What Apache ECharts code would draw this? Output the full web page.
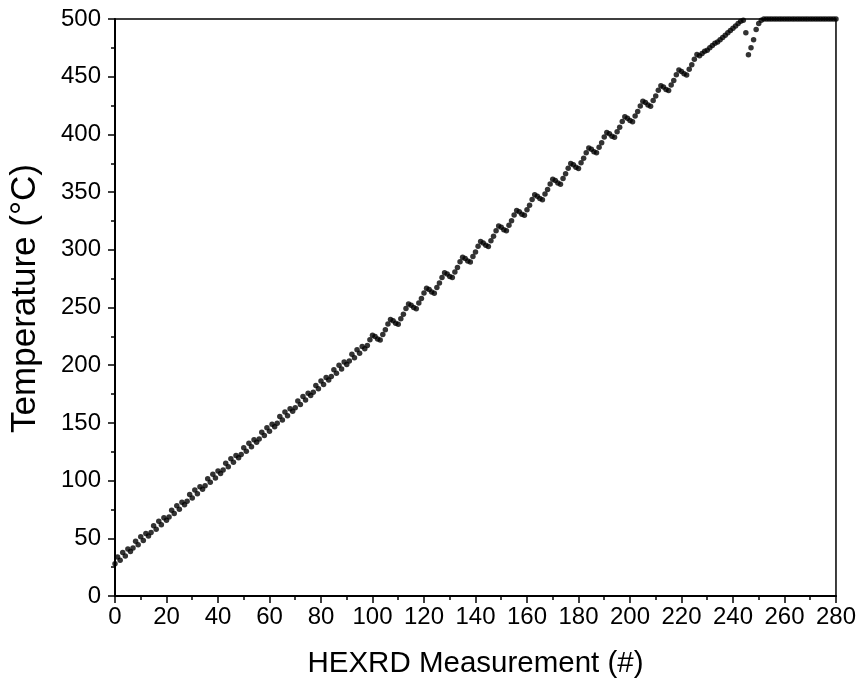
<!DOCTYPE html>
<html>
<head>
<meta charset="utf-8">
<script src="https://cdn.jsdelivr.net/npm/echarts@6/dist/echarts.min.js"></script>
<style>
html, body {margin: 0; padding: 0; background: #fff;}
#main {width: 859px; height: 688px;}
</style>
</head>
<body>
<div id="main"></div>
<script>
// 温度读数, 每个测量编号一个点 (从 0 开始)
var temperature = [
    28.0, 33.9, 30.9, 37.8, 34.7, 40.7, 38.6,
    41.5, 47.4, 44.4, 51.3, 48.2, 54.2, 52.1,
    55.0, 60.9, 57.9, 64.8, 61.7, 67.7, 65.6,
    68.5, 74.4, 71.4, 78.3, 75.2, 81.2, 79.1,
    82.0, 87.9, 84.9, 91.8, 88.7, 94.7, 92.6,
    95.6, 101.5, 98.5, 105.4, 102.3, 108.3, 106.2,
    109.1, 115.0, 112.0, 118.9, 115.8, 121.8, 119.7,
    122.6, 128.5, 125.5, 132.4, 129.3, 135.3, 133.2,
    136.1, 142.0, 139.0, 145.9, 142.8, 148.8, 146.7,
    149.6, 155.5, 152.5, 159.4, 156.3, 162.3, 160.2,
    163.1, 169.0, 166.0, 172.9, 169.8, 175.8, 173.7,
    176.6, 182.5, 179.5, 186.4, 183.3, 189.3, 187.2,
    190.1, 196.0, 193.0, 199.9, 196.8, 202.8, 200.7,
    203.6, 209.5, 206.5, 213.4, 210.3, 216.3, 214.2,
    217.1, 222.0, 226.0, 224.9, 222.8, 221.8, 226.7,
    230.7, 235.6, 239.6, 238.5, 236.4, 235.4, 240.3,
    244.2, 249.1, 253.1, 252.0, 249.9, 248.9, 253.8,
    257.7, 262.6, 266.6, 265.5, 263.4, 262.4, 267.3,
    271.2, 276.1, 280.1, 279.0, 276.9, 275.9, 280.8,
    284.7, 289.6, 293.6, 292.5, 290.4, 289.4, 294.3,
    298.2, 303.1, 307.1, 306.0, 303.9, 302.9, 307.8,
    311.7, 316.6, 320.6, 319.5, 317.4, 316.4, 321.3,
    325.2, 330.1, 334.1, 333.0, 330.9, 329.9, 334.8,
    338.7, 343.6, 347.6, 346.5, 344.4, 343.4, 348.3,
    352.2, 357.1, 361.1, 360.0, 357.9, 356.9, 361.8,
    365.8, 370.7, 374.7, 373.6, 371.5, 370.5, 375.4,
    379.3, 384.2, 388.2, 387.1, 385.0, 384.0, 388.9,
    392.8, 397.7, 401.7, 400.6, 398.5, 397.5, 402.4,
    406.3, 411.2, 415.2, 414.1, 412.0, 411.0, 415.9,
    419.8, 424.7, 428.7, 427.6, 425.5, 424.5, 429.4,
    433.3, 438.2, 442.2, 441.1, 439.0, 438.0, 442.9,
    446.8, 451.7, 455.7, 454.6, 452.5, 451.5, 456.4,
    460.3, 465.2, 469.2, 468.1,
    470, 472, 473, 475, 477, 479, 480, 482, 484, 486, 488, 490, 492, 494, 496, 498, 499,
    488, 469, 475, 482, 491, 496, 499,
    500, 500, 500, 500, 500, 500, 500, 500, 500, 500,
    500, 500, 500, 500, 500, 500, 500, 500, 500, 500,
    500, 500, 500, 500, 500, 500, 500, 500, 500
];
var xTicks = [0, 280, 20];   // min, max, 间隔
var yTicks = [0, 500, 50];

var points = [];
for (var i = 0; i < temperature.length; i++) {
    points.push([i, temperature[i]]);   // 测量编号 = 序号
}

var myChart = echarts.init(document.getElementById('main'));
var fontName = '"Liberation Sans", Arial, sans-serif';
myChart.setOption({
    animation: false,
    backgroundColor: '#fff',
    grid: {
        left: 113, right: 23, top: 19, bottom: 92,
        show: true, borderColor: '#000', borderWidth: 1.5
    },
    xAxis: {
        type: 'value',
        min: xTicks[0], max: xTicks[1], interval: xTicks[2],
        name: 'HEXRD Measurement (#)',
        nameLocation: 'middle',
        nameGap: 53,
        nameTextStyle: {fontFamily: fontName, fontSize: 29.5, color: '#000'},
        axisLine: {show: true, lineStyle: {color: '#000', width: 2}},
        axisTick: {show: true, inside: false, length: 7, lineStyle: {color: '#000', width: 1.5}},
        minorTick: {show: true, splitNumber: 2, length: 4, lineStyle: {color: '#000', width: 1.5}},
        axisLabel: {fontFamily: fontName, fontSize: 24, color: '#000', margin: 9},
        splitLine: {show: false}
    },
    yAxis: {
        type: 'value',
        min: yTicks[0], max: yTicks[1], interval: yTicks[2],
        name: 'Temperature (°C)',
        nameLocation: 'middle',
        nameGap: 72,
        nameTextStyle: {fontFamily: fontName, fontSize: 35, color: '#000', padding: [0, 0, 0, 18]},
        axisLine: {show: true, lineStyle: {color: '#000', width: 2}},
        axisTick: {show: true, inside: false, length: 7, lineStyle: {color: '#000', width: 1.5}},
        minorTick: {show: true, splitNumber: 2, length: 4, lineStyle: {color: '#000', width: 1.5}},
        axisLabel: {fontFamily: fontName, fontSize: 24, color: '#000', margin: 14},
        splitLine: {show: false}
    },
    series: [{
        type: 'scatter',
        data: points,
        symbol: 'circle',
        symbolSize: 5.5,
        itemStyle: {color: '#000'}
    }]
});
</script>
</body>
</html>
